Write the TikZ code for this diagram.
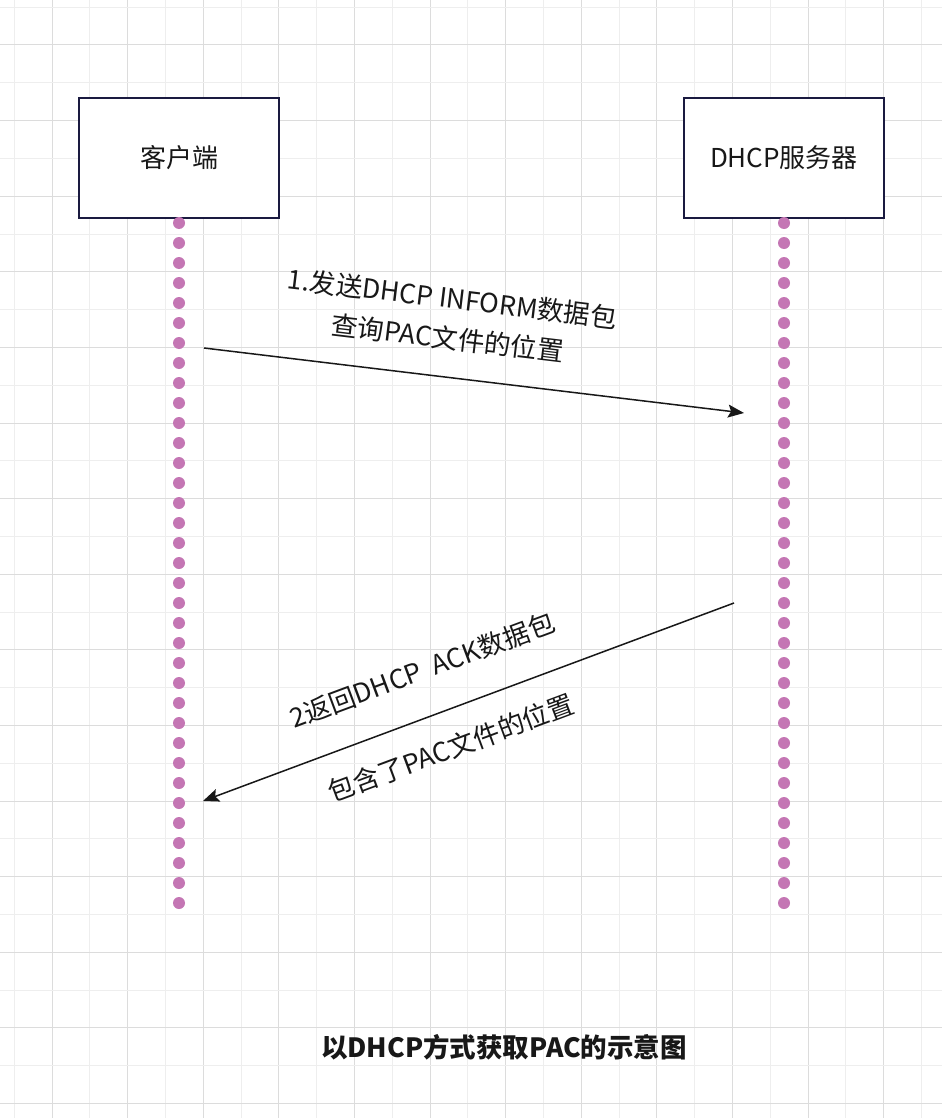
\documentclass[tikz,border=0pt]{standalone}
\usepackage{fontspec}
\setmainfont{Noto Sans CJK SC}
\usepackage{xcolor}
\definecolor{dhnavy}{RGB}{26,26,64}
\definecolor{dhpink}{RGB}{196,118,180}
\definecolor{dhgrid}{RGB}{220,220,220}
\definecolor{dhgridlt}{RGB}{238,238,238}
\definecolor{dhtext}{RGB}{24,24,24}
\usetikzlibrary{arrows.meta,positioning}

\begin{document}
\begin{tikzpicture}[x=1pt,y=-1pt,
  party/.style={draw=dhnavy, line width=2pt, fill=white, minimum width=200pt, minimum height=120pt, text=dhtext, font=\fontsize{26}{30}\selectfont},
  lifeline/.style={dhpink, line width=12pt, line cap=round, dash pattern=on 0pt off 20pt},
  msg/.style={-{Stealth[length=16pt,width=13pt,inset=3pt]}, line width=1.5pt, dhtext},
  msglabel/.style={sloped, inner sep=0pt, align=center, text=dhtext, font=\fontsize{26.5}{40}\selectfont}]
  \useasboundingbox (0,0) rectangle (942,1118);
  \fill[white] (0,0) rectangle (942,1118);
  % Grid
  \foreach \i in {0,...,12} {
    \draw[dhgridlt, line width=1pt] ({14.2+75.6*\i},0) -- ({14.2+75.6*\i},1118);
    \draw[dhgrid, line width=1pt] ({52+75.6*\i},0) -- ({52+75.6*\i},1118);
  }
  \foreach \i in {0,...,14} {
    \draw[dhgridlt, line width=1pt] (0,{7.2+75.6*\i}) -- (942,{7.2+75.6*\i});
    \draw[dhgrid, line width=1pt] (0,{45+75.6*\i}) -- (942,{45+75.6*\i});
  }
  % Parties
  \node[party] (client) at (179,158) {客户端};
  \node[party] (server) at (784,158) {DHCP服务器};
  % Lifelines
  \coordinate (client-end) at (179,905);
  \coordinate (server-end) at (784,905);
  \draw[lifeline] (client.south) ++(0,4) -- (client-end);
  \draw[lifeline] (server.south) ++(0,4) -- (server-end);
  % Messages
  \coordinate (inform-from) at (204,348);
  \coordinate (inform-to) at (744,413);
  \coordinate (ack-from) at (734,603);
  \coordinate (ack-to) at (203,801);
  \draw[msg] (inform-from) -- node[msglabel, pos=0.4425, above=26pt] (inform-label) {1.发送DHCP INFORM数据包\\查询PAC文件的位置} (inform-to);
  \draw[msg] (ack-from) -- node[msglabel, pos=0.557, above=33pt] (ack-label) {2返回DHCP~~ACK数据包}
    node[msglabel, pos=0.557, below=24pt] (ack-note) {包含了PAC文件的位置} (ack-to);
  % Title
  \node[text=dhtext, font=\bfseries\fontsize{26.5}{30}\selectfont] (title) at (504,1047) {以DHCP方式获取PAC的示意图};
\end{tikzpicture}
\end{document}
